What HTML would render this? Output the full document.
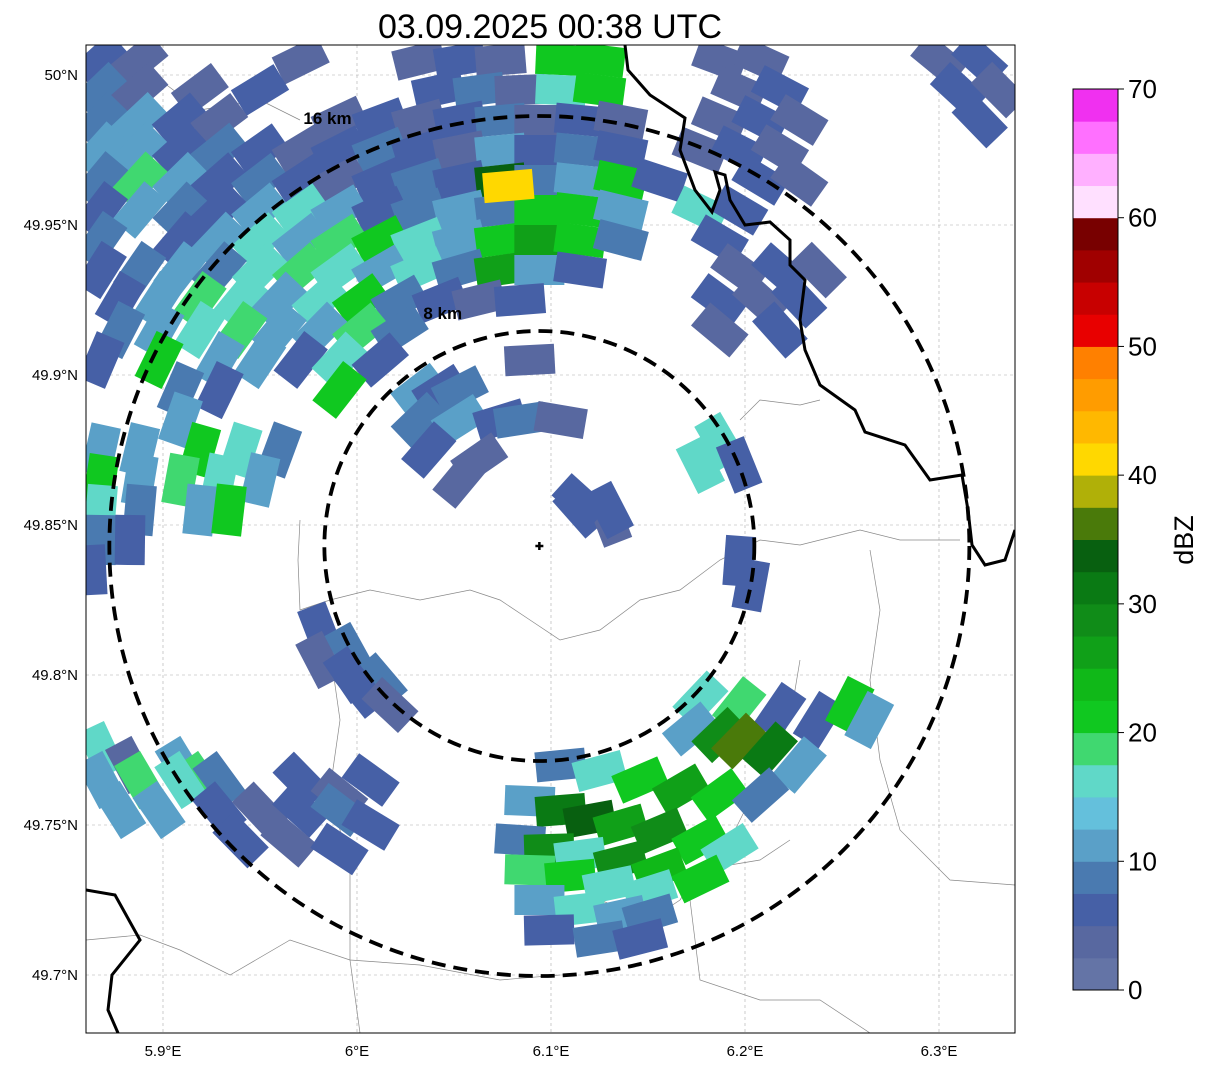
<!DOCTYPE html>
<html><head><meta charset="utf-8">
<style>
body{margin:0;background:#fff;}
svg{display:block;font-family:"Liberation Sans",sans-serif;}
</style></head>
<body>
<svg id="chart" width="1207" height="1069" viewBox="0 0 1207 1069">
<text x="550" y="38" font-size="34" text-anchor="middle">03.09.2025 00:38 UTC</text>
<defs><clipPath id="mapclip"><rect x="86" y="45" width="929" height="988"/></clipPath></defs>
<g id="map" clip-path="url(#mapclip)"></g>
<rect x="86" y="45" width="929" height="988" fill="none" stroke="#000" stroke-width="1"/>
<g id="axes"></g>
<g id="cbar"></g>
</svg>
<script>
const lonTicks=[5.9,6.0,6.1,6.2,6.3];
const lonLabels=["5.9°E","6°E","6.1°E","6.2°E","6.3°E"];
const latTicks=[50.0,49.95,49.9,49.85,49.8,49.75,49.7];
const latLabels=["50°N","49.95°N","49.9°N","49.85°N","49.8°N","49.75°N","49.7°N"];
const cbarTicks=[0,10,20,30,40,50,60,70];
const cbarColors=["#6474a6","#5868a0","#4660a6","#4a7ab0","#5aa0c8","#64c0dc","#60d8c8","#40d870","#10c820","#10b818","#10a018","#108c18","#0a7a14","#086010","#4a7a0a","#b0b008","#ffd800","#ffb800","#ff9c00","#ff8000","#e80000","#c80000","#a00000","#780000","#ffe0ff","#ffb0ff","#ff70ff","#f030f0"];
const rangeKm=[8,16];
const radarLon=6.094, radarLat=49.843;
// echo cells: lon, lat, dBZ
const cellLon=[5.868,5.888,5.971,6.032,6.053,6.074,6.105,6.125,6.187,6.208,6.300,6.321,
5.868,5.888,5.919,5.950,6.042,6.063,6.084,6.105,6.125,6.197,6.218,6.310,6.331,
5.868,5.888,5.909,5.929,5.991,6.012,6.032,6.053,6.074,6.094,6.115,6.136,6.187,6.208,6.228,6.321,
5.868,5.888,5.909,5.929,5.950,5.971,5.991,6.012,6.032,6.053,6.074,6.094,6.115,6.136,6.177,6.197,6.218,
5.868,5.888,5.909,5.929,5.950,5.971,5.991,6.012,6.032,6.053,6.074,6.094,6.115,6.136,6.156,6.208,6.228,
5.868,5.888,5.909,5.929,5.950,5.971,5.991,6.012,6.032,6.053,6.074,6.094,6.115,6.136,6.177,6.197,
5.868,5.909,5.929,5.950,5.971,5.991,6.012,6.032,6.053,6.074,6.094,6.115,6.136,6.187,
5.868,5.888,5.909,5.929,5.950,5.971,5.991,6.012,6.032,6.053,6.074,6.094,6.115,6.197,6.218,6.238,
5.878,5.898,5.919,5.940,5.960,5.981,6.002,6.022,6.043,6.063,6.084,6.187,6.208,6.228,
5.878,5.898,5.919,5.940,5.960,5.981,6.002,6.022,6.187,6.218,
5.868,5.898,5.929,5.950,5.971,5.991,6.012,
5.909,5.929,5.991,6.032,6.043,6.053,
5.909,6.032,6.053,6.074,6.084,6.105,6.187,
5.868,5.888,5.919,5.940,5.960,6.037,6.063,6.197,
5.868,5.888,5.909,5.929,5.950,6.053,
5.868,5.888,5.919,5.934,6.115,6.130,
5.868,5.883,6.197,
5.863,6.203,
5.981,5.996,
5.981,5.996,6.012,
6.002,6.017,
5.868,5.883,5.909,5.919,
5.868,5.888,5.909,5.929,5.971,5.991,6.007,
5.878,5.898,5.929,5.950,5.971,5.991,6.007,
5.940,5.965,5.991,
6.177,6.197,6.218,6.238,6.254,6.264,
6.172,6.187,6.197,6.213,6.228,
6.105,6.125,6.146,6.167,6.187,6.208,
6.089,6.105,6.120,6.136,6.156,6.177,6.192,
6.084,6.099,6.115,6.136,6.156,6.177,
6.089,6.110,6.130,6.151,
6.094,6.115,6.136,6.151,
6.099,6.125,6.146,
6.115,6.130,6.089,6.177,6.078];
const cellLat=[50.005,50.005,50.005,50.005,50.005,50.005,50.005,50.005,50.005,50.005,50.005,50.005,
49.995,49.995,49.995,49.995,49.995,49.995,49.995,49.995,49.995,49.995,49.995,49.995,49.995,
49.985,49.985,49.985,49.985,49.985,49.985,49.985,49.985,49.985,49.985,49.985,49.985,49.985,49.985,49.985,49.985,
49.975,49.975,49.975,49.975,49.975,49.975,49.975,49.975,49.975,49.975,49.975,49.975,49.975,49.975,49.975,49.975,49.975,
49.965,49.965,49.965,49.965,49.965,49.965,49.965,49.965,49.965,49.965,49.965,49.965,49.965,49.965,49.965,49.965,49.965,
49.955,49.955,49.955,49.955,49.955,49.955,49.955,49.955,49.955,49.955,49.955,49.955,49.955,49.955,49.955,49.955,
49.945,49.945,49.945,49.945,49.945,49.945,49.945,49.945,49.945,49.945,49.945,49.945,49.945,49.945,
49.935,49.935,49.935,49.935,49.935,49.935,49.935,49.935,49.935,49.935,49.935,49.935,49.935,49.935,49.935,49.935,
49.925,49.925,49.925,49.925,49.925,49.925,49.925,49.925,49.925,49.925,49.925,49.925,49.925,49.925,
49.915,49.915,49.915,49.915,49.915,49.915,49.915,49.915,49.915,49.915,
49.905,49.905,49.905,49.905,49.905,49.905,49.905,
49.895,49.895,49.895,49.895,49.895,49.895,
49.885,49.885,49.885,49.885,49.885,49.885,49.878,
49.875,49.875,49.875,49.875,49.875,49.875,49.872,49.870,
49.865,49.865,49.865,49.865,49.865,49.865,
49.855,49.855,49.855,49.855,49.855,49.852,
49.845,49.845,49.838,
49.835,49.830,
49.815,49.808,
49.805,49.800,49.798,
49.795,49.790,
49.775,49.770,49.770,49.765,
49.765,49.765,49.765,49.765,49.765,49.760,49.765,
49.755,49.755,49.755,49.755,49.755,49.755,49.750,
49.745,49.745,49.742,
49.792,49.790,49.788,49.785,49.790,49.785,
49.782,49.780,49.778,49.775,49.770,
49.770,49.768,49.765,49.762,49.760,49.760,
49.758,49.755,49.752,49.750,49.748,49.745,49.742,
49.745,49.742,49.740,49.738,49.735,49.732,
49.735,49.733,49.730,49.728,
49.725,49.722,49.720,49.720,
49.715,49.712,49.712,
49.858,49.855,49.905,49.870,49.963];
const cellDbz=[5,3,3,3,5,3,20,22,3,3,3,5,
8,3,3,5,5,8,3,17,20,3,5,5,3,
8,10,5,3,3,5,3,5,8,3,5,3,3,5,3,5,
10,12,5,8,5,3,5,8,5,3,10,5,8,5,3,5,3,
8,18,10,5,8,5,3,5,8,5,33,8,12,22,5,5,3,
5,10,8,5,12,15,10,5,8,10,8,22,20,12,15,5,
8,5,10,15,12,18,20,15,10,22,25,20,8,5,
5,8,12,8,15,18,15,12,15,8,25,12,5,3,5,3,
5,12,18,15,12,15,20,8,5,3,5,5,3,5,
8,12,15,18,12,10,18,8,3,5,
5,20,12,10,5,15,5,
8,5,20,10,5,8,
10,8,10,5,8,3,17,
12,10,22,15,8,5,3,5,
20,12,18,15,10,3,
15,8,12,20,5,3,
8,5,5,
5,5,
5,8,
3,5,8,
5,3,
15,3,12,18,
12,18,15,8,5,3,5,
10,12,5,3,5,8,5,
5,3,5,
15,18,5,5,20,12,
12,28,37,30,10,
8,15,22,25,20,8,
10,30,33,25,28,22,15,
8,28,15,28,23,20,
18,20,17,15,
12,17,12,8,
5,8,5,
5,5,3,17,42];

const X0=163,XS=1940,Y0=75,YS=3000;
function xs(lon){return X0+(lon-5.9)*XS;}
function ys(lat){return Y0+(50-lat)*YS;}
function cbColor(v){return cbarColors[Math.max(0,Math.min(27,Math.floor(v/2.5)))];}
const NS="http://www.w3.org/2000/svg";
function mk(tag,attrs,parent){const e=document.createElementNS(NS,tag);for(const k in attrs)e.setAttribute(k,attrs[k]);parent.appendChild(e);return e;}
const map=document.getElementById('map');
const axes=document.getElementById('axes');
const cbar=document.getElementById('cbar');

lonTicks.forEach((t,i)=>{const l=mk('line',{x1:xs(t),x2:xs(t),y1:45,y2:1033,stroke:'#aaa','stroke-width':0.6,'stroke-dasharray':'3,3'},map);


const tx=mk('text',{x:xs(t),y:1056,'font-size':15,'text-anchor':'middle'},axes);tx.textContent=lonLabels[i];

});
latTicks.forEach((t,i)=>{const l=mk('line',{x1:86,x2:1015,y1:ys(t),y2:ys(t),stroke:'#aaa','stroke-width':0.6,'stroke-dasharray':'3,3'},map);


const tx=mk('text',{x:78,y:ys(t)+5,'font-size':15,'text-anchor':'end'},axes);tx.textContent=latLabels[i];

});

const thin=["M300,520 L298,560 L300,610 L330,600 L370,590 L420,600 L470,590 L500,600 L530,620 L560,640 L600,630 L640,600 L680,590 L720,560 L760,540 L800,545 L860,530 L900,540 L960,540",
"M330,650 L340,720 L330,790 L350,870 L350,960 L360,1033",
"M86,940 L140,935 L180,950 L230,975 L290,940 L350,960 L420,965 L500,980 L560,975",
"M740,420 L760,400 L800,405 L820,400",
"M800,660 L790,720 L760,780 L720,860 L690,900 L700,980 L760,1000 L820,1000 L870,1033",
"M870,550 L880,610 L870,680 L880,760 L900,830 L950,880 L1015,885",
"M86,75 L120,90 L160,80 L200,110 L260,100 L300,120",
"M600,900 L650,920 L680,900 L700,870 L760,860 L790,840"];
thin.forEach(d=>{const p=mk('path',{d:d,fill:'none',stroke:'#888','stroke-width':0.7},map);

});

const cx0=xs(radarLon),cy0=ys(radarLat);
for(let i=0;i<cellLon.length;i++){
  const x=xs(cellLon[i]),y=ys(cellLat[i]);
  const ang=Math.atan2(y-cy0,x-cx0)*180/Math.PI+90;
  const r=mk('rect',{x:x-25,y:y-15,width:50,height:30,fill:cbColor(cellDbz[i]),transform:`rotate(${ang.toFixed(1)} ${x.toFixed(1)} ${y.toFixed(1)})`},map);
  
  
}

const thick=["M625,45 L628,70 L650,95 L685,118 L680,150 L695,190 L712,212 L720,190 L715,172 L725,175 L730,200 L745,225 L770,222 L790,240 L790,265 L805,280 L800,320 L805,350 L820,385 L855,410 L865,432 L905,445 L930,480 L962,475 L968,510 L972,545 L985,565 L1005,560 L1015,530",
"M86,890 L115,895 L140,940 L112,975 L108,1010 L118,1033"];
thick.forEach(d=>{const p=mk('path',{d:d,fill:'none',stroke:'#000','stroke-width':3},map);

});

const pxPerKm=215/8;
rangeKm.forEach(k=>{const c=mk('circle',{cx:cx0,cy:cy0,r:k*pxPerKm,fill:'none',stroke:'#000','stroke-width':3.8,'stroke-dasharray':'14,8'},map);


const t=mk('text',{x:cx0-(k===16?236:116),y:cy0-(k===16?428:233)+6,'font-size':17,'font-weight':'bold'},map);t.textContent=k+' km';

});
const cr=mk('path',{d:`M${cx0-4},${cy0} L${cx0+4},${cy0} M${cx0},${cy0-4} L${cx0},${cy0+4}`,stroke:'#000','stroke-width':2.5},map);



const cbX=1073,cbW=45,cbTop=89,cbBot=990;
function cy(v){return cbBot-(v/70)*(cbBot-cbTop);}
cbarColors.forEach((c,i)=>{const r=mk('rect',{x:cbX,y:cy((i+1)*2.5),width:cbW,height:cy(i*2.5)-cy((i+1)*2.5)+0.5,fill:c},cbar);

});
mk('rect',{x:cbX,y:cbTop,width:cbW,height:cbBot-cbTop,fill:'none',stroke:'#000','stroke-width':1},cbar);
cbarTicks.forEach(t=>{mk('line',{x1:cbX+cbW,x2:cbX+cbW+6,y1:cy(t),y2:cy(t),stroke:'#000'},cbar);
const tx=mk('text',{x:1128,y:cy(t)+9,'font-size':26},cbar);tx.textContent=t;

});
const lab=mk('text',{x:1193,y:540,'font-size':27,'text-anchor':'middle',transform:'rotate(-90 1193 540)'},cbar);lab.textContent='dBZ';


</script>
</body></html>
